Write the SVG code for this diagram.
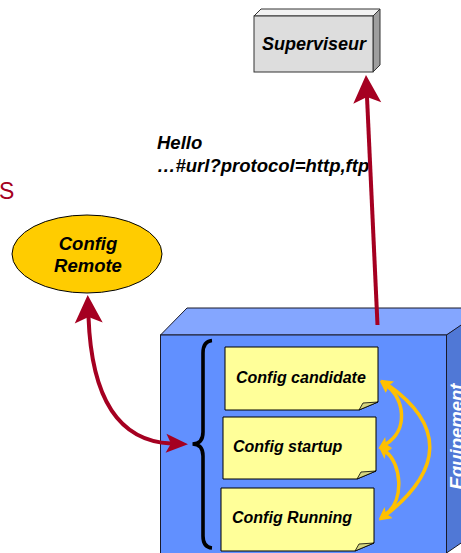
<svg xmlns="http://www.w3.org/2000/svg" width="461" height="553" viewBox="0 0 461 553">
<style>
.lbl{font-family:"Liberation Sans",Arial,sans-serif;font-weight:bold;font-style:italic;fill:#000}
.note{fill:#FFFF99;stroke:#000;stroke-width:1}
.fold{fill:#D6D680;stroke:#000;stroke-width:0.8}
.red{fill:none;stroke:#A50021;stroke-width:4}
.gold{fill:none;stroke:#FFC000;stroke-width:3.5}
</style>
<defs>
<marker id="redBig" markerUnits="userSpaceOnUse" markerWidth="40" markerHeight="40" refX="6" refY="14" orient="auto-start-reverse" overflow="visible">
<path d="M0,0 L28,14 L0,28 L6,14 Z" fill="#A50021"/>
</marker>
<marker id="redSmall" markerUnits="userSpaceOnUse" markerWidth="30" markerHeight="30" refX="5" refY="9.5" orient="auto-start-reverse" overflow="visible">
<path d="M0,0 L22,9.5 L0,19 L5,9.5 Z" fill="#A50021"/>
</marker>
<marker id="goldHead" markerUnits="userSpaceOnUse" markerWidth="20" markerHeight="20" refX="3" refY="6.5" orient="auto-start-reverse" overflow="visible">
<path d="M0,0 L12,6.5 L0,13 L3,6.5 Z" fill="#FFC000"/>
</marker>
</defs>

<text x="-1" y="199" font-family="Liberation Sans, Arial, sans-serif" font-size="23" fill="#A50021">S</text>

<g id="superviseur">
<polygon points="254,16 261,9 380,9 373,16" fill="#F2F2F2" stroke="#333" stroke-width="1"/>
<polygon points="373,16 380,9 380,65 373,72" fill="#9E9E9E" stroke="#333" stroke-width="1"/>
<rect x="254" y="16" width="119" height="56" fill="#DDDDDD" stroke="#333" stroke-width="1"/>
<text class="lbl" x="314" y="50" font-size="18" text-anchor="middle">Superviseur</text>
</g>

<g id="hello-label">
<text class="lbl" x="157" y="148.5" font-size="18.5">Hello</text>
<text class="lbl" x="157" y="171.5" font-size="18.5">…#url?protocol=http,ftp</text>
</g>

<g id="config-remote">
<ellipse cx="87" cy="254" rx="75" ry="39" fill="#FFCC00" stroke="#000" stroke-width="1"/>
<text class="lbl" x="88" y="250" font-size="18.5" text-anchor="middle">Config</text>
<text class="lbl" x="88" y="271.5" font-size="18.5" text-anchor="middle">Remote</text>
</g>

<g id="equipement">
<polygon points="160.5,335 187,308 490,308 446.5,335" fill="#84A6FF" stroke="#1a1a2a" stroke-width="1"/>
<polygon points="446.5,335 486,308 486,526 446.5,553" fill="#5078D6" stroke="#1a1a2a" stroke-width="1"/>
<rect x="160.5" y="335" width="286" height="220" fill="#6190FF" stroke="#1a1a2a" stroke-width="1"/>
<text class="lbl" transform="translate(463,436.5) rotate(-90)" x="0" y="0" font-size="18.5" text-anchor="middle" style="fill:#fff">Equipement</text>
</g>

<g id="config-candidate">
<path class="note" d="M225,347 H378 V402 L359,410 H225 Z"/>
<path class="fold" d="M359,410 L363,403 L378,402 Z"/>
<text class="lbl" x="236" y="383" font-size="16">Config candidate</text>
</g>

<g id="config-startup">
<path class="note" d="M223,417 H376 V471 L357,479 H223 Z"/>
<path class="fold" d="M357,479 L361,472 L376,471 Z"/>
<text class="lbl" x="233" y="452" font-size="16">Config startup</text>
</g>

<g id="config-running">
<path class="note" d="M221,488 H374 V543 L355,551 H221 Z"/>
<path class="fold" d="M355,551 L359,544 L374,543 Z"/>
<text class="lbl" x="232" y="523" font-size="16">Config Running</text>
</g>

<g id="brace">
<path d="M212,340.5 C206,341 203,345 203,353 L203,432 C203,440 199,444 192.5,444 C199,444 203,448 203,456 L203,536 C203,543 206,547.5 212,548" fill="none" stroke="#000" stroke-width="3.6"/>
</g>

<g id="connectors">
<path class="gold" d="M387,386 C404,398 409,430 386,444" marker-start="url(#goldHead)" marker-end="url(#goldHead)"/>
<path class="gold" d="M386,452 C401,463 405,500 386,514" marker-start="url(#goldHead)" marker-end="url(#goldHead)"/>
<path class="gold" d="M388,385 C445,425 443,470 386,515" marker-start="url(#goldHead)" marker-end="url(#goldHead)"/>
<path class="red" d="M377.5,325 L367,97" marker-end="url(#redBig)"/>
<path class="red" d="M88.5,317 Q93,440 171,443.5" marker-start="url(#redBig)" marker-end="url(#redSmall)"/>
</g>
</svg>
